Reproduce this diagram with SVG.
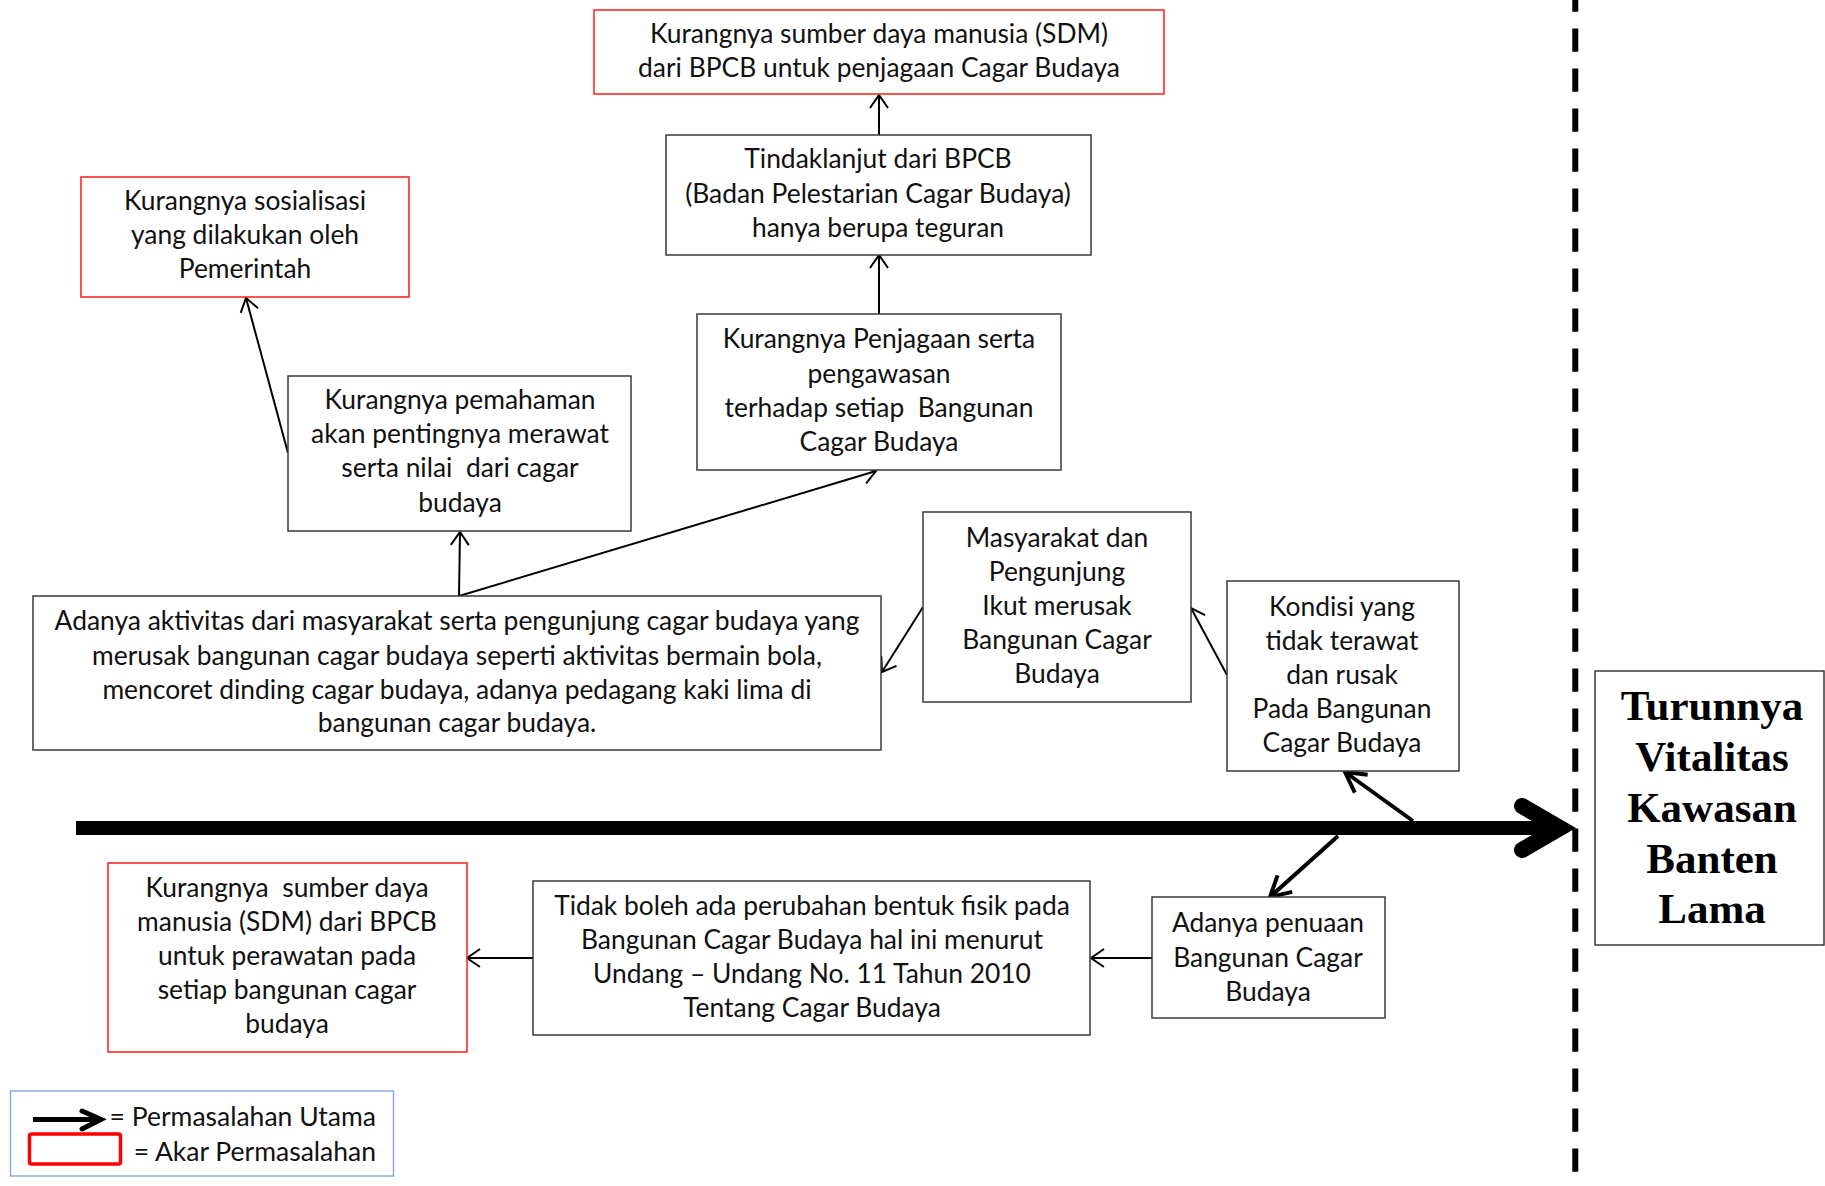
<svg xmlns="http://www.w3.org/2000/svg" width="1825" height="1186" viewBox="0 0 1825 1186">
  <style>
    .box { fill: #ffffff; stroke: #3a3a3a; stroke-width: 1.5; }
    .root { fill: #ffffff; stroke: #ff1a1a; stroke-width: 1.5; }
    .t { font-family: "Lato", "Liberation Sans", sans-serif; font-size: 26.4px; fill: #111111; text-anchor: middle; white-space: pre; }
    .lg { font-family: "Lato", "Liberation Sans", sans-serif; font-size: 26.5px; fill: #111111; text-anchor: end; }
    .big { font-family: "Liberation Serif", "Times New Roman", serif; font-size: 43px; font-weight: bold; fill: #000000; text-anchor: middle; }
    .thin { fill: none; stroke: #000000; stroke-width: 2; marker-end: url(#open); }
    .thick { fill: none; stroke: #000000; stroke-width: 4; marker-end: url(#openBig); }
  </style>
  <defs>
    <marker id="open" markerUnits="userSpaceOnUse" viewBox="-16 -12 20 24" markerWidth="20" markerHeight="24" refX="0" refY="0" orient="auto">
      <path d="M-13,-9 L0,0 L-13,9" fill="none" stroke="#000000" stroke-width="2"/>
    </marker>
    <marker id="openBig" markerUnits="userSpaceOnUse" viewBox="-26 -16 32 32" markerWidth="32" markerHeight="32" refX="0" refY="0" orient="auto">
      <path d="M-20,-11 L0,0 L-20,11" fill="none" stroke="#000000" stroke-width="4"/>
    </marker>
  </defs>

  <rect width="1825" height="1186" fill="#ffffff"/>

  <!-- dashed boundary -->
  <line x1="1575.3" y1="0" x2="1575.3" y2="1186" stroke="#000000" stroke-width="6" stroke-dasharray="23.3 16.7" stroke-dashoffset="11.6"/>

  <!-- main spine -->
  <g id="spine">
    <line x1="76" y1="828" x2="1562" y2="828" stroke="#000000" stroke-width="14"/>
    <path d="M1522,806 L1560,828 L1522,850" fill="none" stroke="#000000" stroke-width="16" stroke-linecap="round" stroke-linejoin="miter"/>
  </g>

  <!-- connectors -->
  <g id="connectors">
    <line class="thin" x1="879" y1="135" x2="879" y2="95"/>
    <line class="thin" x1="879" y1="314" x2="879" y2="255"/>
    <line class="thin" x1="459" y1="596" x2="460" y2="532"/>
    <line class="thin" x1="459" y1="596" x2="876" y2="471"/>
    <line class="thin" x1="288" y1="453" x2="246" y2="298"/>
    <line class="thin" x1="923" y1="607" x2="882" y2="672"/>
    <line class="thin" x1="1227" y1="675" x2="1191" y2="608"/>
    <line class="thin" x1="1152" y1="958" x2="1091" y2="958"/>
    <line class="thin" x1="533" y1="958" x2="467" y2="958"/>
    <line class="thick" x1="1413" y1="821" x2="1345" y2="772"/>
    <line class="thick" x1="1338" y1="836" x2="1270" y2="897"/>
  </g>

  <g id="sdm-penjagaan">
    <rect class="root" x="594" y="10" width="570" height="84"/>
    <text class="t" x="879" y="43">Kurangnya sumber daya manusia (SDM)</text>
    <text class="t" x="879" y="77">dari BPCB untuk penjagaan Cagar Budaya</text>
  </g>

  <g id="tindaklanjut">
    <rect class="box" x="666" y="135" width="425" height="120"/>
    <text class="t" x="878" y="168">Tindaklanjut dari BPCB</text>
    <text class="t" x="878" y="203">(Badan Pelestarian Cagar Budaya)</text>
    <text class="t" x="878" y="237">hanya berupa teguran</text>
  </g>

  <g id="penjagaan">
    <rect class="box" x="697" y="314" width="364" height="156"/>
    <text class="t" x="879" y="348">Kurangnya Penjagaan serta</text>
    <text class="t" x="879" y="383">pengawasan</text>
    <text class="t" x="879" y="417">terhadap setiap  Bangunan</text>
    <text class="t" x="879" y="451">Cagar Budaya</text>
  </g>

  <g id="sosialisasi">
    <rect class="root" x="81" y="177" width="328" height="120"/>
    <text class="t" x="245" y="210">Kurangnya sosialisasi</text>
    <text class="t" x="245" y="244">yang dilakukan oleh</text>
    <text class="t" x="245" y="278">Pemerintah</text>
  </g>

  <g id="pemahaman">
    <rect class="box" x="288" y="376" width="343" height="155"/>
    <text class="t" x="460" y="409">Kurangnya pemahaman</text>
    <text class="t" x="460" y="443">akan pentingnya merawat</text>
    <text class="t" x="460" y="477">serta nilai  dari cagar</text>
    <text class="t" x="460" y="512">budaya</text>
  </g>

  <g id="aktivitas">
    <rect class="box" x="33" y="596" width="848" height="154"/>
    <text class="t" x="457" y="630">Adanya aktivitas dari masyarakat serta pengunjung cagar budaya yang</text>
    <text class="t" x="457" y="665">merusak bangunan cagar budaya seperti aktivitas bermain bola,</text>
    <text class="t" x="457" y="699">mencoret dinding cagar budaya, adanya pedagang kaki lima di</text>
    <text class="t" x="457" y="732">bangunan cagar budaya.</text>
  </g>

  <g id="masyarakat">
    <rect class="box" x="923" y="512" width="268" height="190"/>
    <text class="t" x="1057" y="547">Masyarakat dan</text>
    <text class="t" x="1057" y="581">Pengunjung</text>
    <text class="t" x="1057" y="615">Ikut merusak</text>
    <text class="t" x="1057" y="649">Bangunan Cagar</text>
    <text class="t" x="1057" y="683">Budaya</text>
  </g>

  <g id="kondisi">
    <rect class="box" x="1227" y="581" width="232" height="190"/>
    <text class="t" x="1342" y="616">Kondisi yang</text>
    <text class="t" x="1342" y="650">tidak terawat</text>
    <text class="t" x="1342" y="684">dan rusak</text>
    <text class="t" x="1342" y="718">Pada Bangunan</text>
    <text class="t" x="1342" y="752">Cagar Budaya</text>
  </g>

  <g id="penuaan">
    <rect class="box" x="1152" y="897" width="233" height="121"/>
    <text class="t" x="1268" y="932">Adanya penuaan</text>
    <text class="t" x="1268" y="967">Bangunan Cagar</text>
    <text class="t" x="1268" y="1001">Budaya</text>
  </g>

  <g id="undang-undang">
    <rect class="box" x="533" y="881" width="557" height="154"/>
    <text class="t" x="812" y="915">Tidak boleh ada perubahan bentuk fisik pada</text>
    <text class="t" x="812" y="949">Bangunan Cagar Budaya hal ini menurut</text>
    <text class="t" x="812" y="983">Undang – Undang No. 11 Tahun 2010</text>
    <text class="t" x="812" y="1017">Tentang Cagar Budaya</text>
  </g>

  <g id="sdm-perawatan">
    <rect class="root" x="108" y="863" width="359" height="189"/>
    <text class="t" x="287" y="897">Kurangnya  sumber daya</text>
    <text class="t" x="287" y="931">manusia (SDM) dari BPCB</text>
    <text class="t" x="287" y="965">untuk perawatan pada</text>
    <text class="t" x="287" y="999">setiap bangunan cagar</text>
    <text class="t" x="287" y="1033">budaya</text>
  </g>

  <g id="turunnya">
    <rect x="1595" y="671" width="229" height="274" fill="#ffffff" stroke="#3a3a3a" stroke-width="1.5"/>
    <text class="big" x="1712" y="720">Turunnya</text>
    <text class="big" x="1712" y="771">Vitalitas</text>
    <text class="big" x="1712" y="822">Kawasan</text>
    <text class="big" x="1712" y="873">Banten</text>
    <text class="big" x="1712" y="923">Lama</text>
  </g>

  <g id="legend">
    <rect x="10.5" y="1091" width="383" height="85" fill="#ffffff" stroke="#8faadc" stroke-width="1.5"/>
    <line x1="33" y1="1119.5" x2="97" y2="1119.5" stroke="#000000" stroke-width="5"/>
    <path d="M82,1111 L101,1119.5 L82,1129" fill="none" stroke="#000000" stroke-width="5" stroke-linecap="round"/>
    <rect x="29.5" y="1134" width="91" height="30" rx="2" fill="#ffffff" stroke="#ff0000" stroke-width="3.5"/>
    <text class="lg" x="376" y="1126">= Permasalahan Utama</text>
    <text class="lg" x="376" y="1161">= Akar Permasalahan</text>
  </g>
</svg>
